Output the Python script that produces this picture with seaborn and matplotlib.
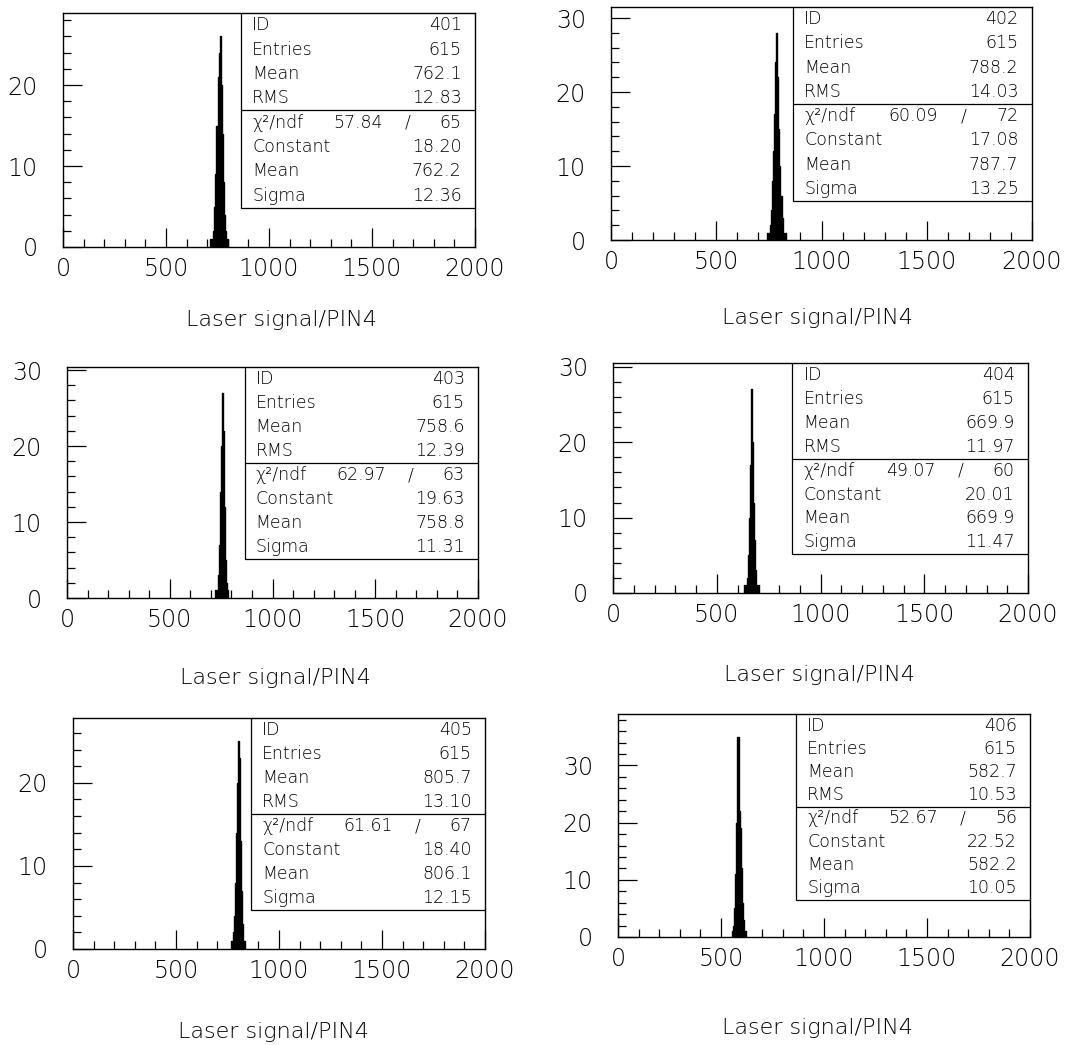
import numpy as np
import pandas as pd
import matplotlib
matplotlib.use("Agg")
import matplotlib.pyplot as plt
from matplotlib.ticker import MultipleLocator
import seaborn as sns

# histogram summary values (stat boxes)
hist_ids = [401, 402, 403, 404, 405, 406]
entries = [615, 615, 615, 615, 615, 615]
means = [762.1, 788.2, 758.6, 669.9, 805.7, 582.7]
rms = [12.83, 14.03, 12.39, 11.97, 13.10, 10.53]
chi2 = [57.84, 60.09, 62.97, 49.07, 61.61, 52.67]
ndf = [65, 72, 63, 60, 67, 56]
constants = [18.20, 17.08, 19.63, 20.01, 18.40, 22.52]
fit_means = [762.2, 787.7, 758.8, 669.9, 806.1, 582.2]
sigmas = [12.36, 13.25, 11.31, 11.47, 12.15, 10.05]

# bin contents (bin width 5, first bin edge given)
BIN_W = 5
first_edge = [715, 740, 720, 630, 765, 555]
counts_401 = [1, 0, 1, 2, 5, 9, 15, 21, 24, 26, 20, 14, 8, 4, 2, 1, 1]
counts_402 = [1, 0, 1, 2, 4, 8, 12, 17, 24, 28, 22, 15, 10, 6, 3, 1, 0, 1]
counts_403 = [1, 0, 1, 3, 7, 14, 20, 27, 22, 12, 5, 2, 1]
counts_404 = [1, 0, 1, 2, 5, 10, 17, 27, 20, 12, 7, 3, 1, 0, 1]
counts_405 = [1, 0, 2, 4, 8, 14, 20, 25, 23, 13, 7, 3, 1, 1]
counts_406 = [1, 2, 5, 11, 20, 35, 22, 19, 12, 6, 3, 1, 1]
all_counts = [counts_401, counts_402, counts_403, counts_404, counts_405, counts_406]

x_label = "Laser signal/PIN4"
y_tops = [28.9, 31.5, 30.4, 30.5, 27.8, 39.0]

# axes boxes in pixels: left, top, right, bottom
W, H = 1075, 1045
ax_px = [(63, 13, 475, 247), (611, 7, 1032, 240),
         (67, 367, 478, 598), (613, 363, 1028, 593),
         (73, 718, 485, 949), (618, 714, 1030, 937)]
xlabel_px = [(282, 320), (818, 318), (275, 678), (820, 675), (274, 1032), (818, 1028)]

sns.set_theme(style="white")
plt.rcParams["font.family"] = ["DejaVu Sans"]

fig = plt.figure(figsize=(W / 100, H / 100), dpi=100)

BOX_L = 0.432
BOX_H = 0.832
TXT = dict(fontsize=12.5, fontweight="light", color="black")

for i in range(6):
    l, t, r, b = ax_px[i]
    ax = fig.add_axes([l / W, 1 - b / H, (r - l) / W, (b - t) / H])
    counts = all_counts[i]
    lo = first_edge[i]
    hi = lo + BIN_W * len(counts)
    df = pd.DataFrame({"signal": lo + BIN_W * (np.arange(len(counts)) + 0.5),
                       "n": counts})
    sns.histplot(data=df, x="signal", weights="n", binwidth=BIN_W,
                 binrange=(lo, hi), element="step", fill=True, alpha=1.0,
                 color="black", edgecolor="black", linewidth=1.0, ax=ax)
    ax.set_xlim(0, 2000)
    ax.set_ylim(0, y_tops[i])
    ax.set_xlabel("")
    ax.set_ylabel("")
    ax.xaxis.set_major_locator(MultipleLocator(500))
    ax.xaxis.set_minor_locator(MultipleLocator(100))
    ax.yaxis.set_major_locator(MultipleLocator(10))
    ax.yaxis.set_minor_locator(MultipleLocator(2))
    ax.tick_params(which="major", direction="in", length=14, width=0.9,
                   color="black", labelsize=17, top=False, right=False,
                   left=True, bottom=True)
    ax.tick_params(which="minor", direction="in", length=6, width=0.9,
                   color="black", top=False, right=False, left=True, bottom=True)
    ax.tick_params(axis="y", which="major", pad=18)
    ax.tick_params(axis="x", which="major", pad=7)
    for lab in ax.get_xticklabels() + ax.get_yticklabels():
        lab.set_fontweight("light")
        lab.set_color("black")
    for sp in ax.spines.values():
        sp.set_visible(True)
        sp.set_color("black")
        sp.set_linewidth(1.0)

    # stat box
    tr = ax.transAxes
    bot = 1.0 - BOX_H
    ax.plot([BOX_L, BOX_L, 1.0], [1.0, bot, bot], color="black", lw=0.9,
            transform=tr, clip_on=False)
    sep = 1.0 - BOX_H / 2
    ax.plot([BOX_L, 1.0], [sep, sep], color="black", lw=0.9, transform=tr,
            clip_on=False)
    rows = [("ID", f"{hist_ids[i]}"),
            ("Entries", f"{entries[i]}"),
            ("Mean", f"{means[i]:.1f}"),
            ("RMS", f"{rms[i]:.2f}"),
            ("χ²/ndf", f"{ndf[i]}"),
            ("Constant", f"{constants[i]:.2f}"),
            ("Mean", f"{fit_means[i]:.1f}"),
            ("Sigma", f"{sigmas[i]:.2f}")]
    step = BOX_H / 8
    for k, (name, val) in enumerate(rows):
        y = 1.0 - (k + 0.5) * step
        ax.text(BOX_L + 0.027, y, name, transform=tr, ha="left", va="center", **TXT)
        ax.text(0.968, y, val, transform=tr, ha="right", va="center", **TXT)
        if k == 4:
            ax.text(0.777, y, f"{chi2[i]:.2f}", transform=tr, ha="right",
                    va="center", **TXT)
            ax.text(0.837, y, "/", transform=tr, ha="center", va="center", **TXT)

    xc, yc = xlabel_px[i]
    fig.text(xc / W, 1 - yc / H, x_label, ha="center", va="center",
             fontsize=16, fontweight="light", color="black")

fig.savefig("out.png", dpi=100)
